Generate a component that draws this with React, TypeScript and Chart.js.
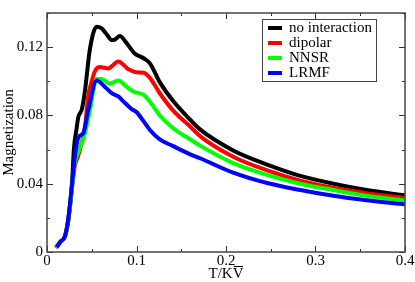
import React, { useEffect, useRef } from "react";
import { Chart, registerables } from "chart.js";

Chart.register(...registerables);

// No interaction (black)
const tNoInteraction = [0.010, 0.015, 0.020, 0.024, 0.028, 0.030, 0.033, 0.035, 0.039, 0.0425, 0.048, 0.0555, 0.061, 0.066, 0.0723, 0.0745, 0.0816, 0.087, 0.098, 0.108, 0.115, 0.126, 0.141, 0.160, 0.171, 0.208, 0.246, 0.283, 0.320, 0.357, 0.400];
const mNoInteraction = [0.0025, 0.006, 0.009, 0.0195, 0.040, 0.060, 0.072, 0.079, 0.0837, 0.0948, 0.119, 0.132, 0.131, 0.128, 0.1242, 0.1242, 0.1265, 0.1237, 0.1163, 0.1135, 0.1105, 0.0995, 0.0884, 0.0775, 0.0718, 0.0595, 0.0512, 0.0446, 0.0400, 0.0363, 0.0332];

// Dipolar (red)
const tDipolar = [0.010, 0.015, 0.020, 0.024, 0.028, 0.031, 0.035, 0.0425, 0.046, 0.050, 0.0536, 0.059, 0.0685, 0.0723, 0.0797, 0.091, 0.102, 0.108, 0.115, 0.126, 0.141, 0.160, 0.171, 0.208, 0.246, 0.283, 0.320, 0.357, 0.400];
const mDipolar = [0.0025, 0.006, 0.009, 0.0195, 0.038, 0.050, 0.0567, 0.0735, 0.091, 0.100, 0.106, 0.1083, 0.1075, 0.1088, 0.1116, 0.107, 0.1051, 0.105, 0.102, 0.093, 0.0828, 0.0735, 0.0679, 0.0558, 0.0478, 0.0418, 0.0376, 0.0344, 0.0316];

// NNSR (green)
const tNNSR = [0.010, 0.015, 0.020, 0.024, 0.028, 0.031, 0.036, 0.0425, 0.048, 0.0555, 0.061, 0.070, 0.080, 0.087, 0.0964, 0.108, 0.115, 0.126, 0.141, 0.160, 0.171, 0.208, 0.246, 0.283, 0.320, 0.357, 0.400];
const mNNSR = [0.0025, 0.006, 0.009, 0.0195, 0.038, 0.052, 0.060, 0.0697, 0.083, 0.1014, 0.1014, 0.0986, 0.1004, 0.0976, 0.094, 0.092, 0.088, 0.080, 0.0725, 0.0660, 0.0623, 0.0521, 0.0452, 0.0400, 0.0363, 0.0329, 0.0301];

// LRMF (blue)
const tLRMF = [0.0108, 0.015, 0.020, 0.0238, 0.0276, 0.0313, 0.035, 0.0406, 0.046, 0.0555, 0.0648, 0.0723, 0.0797, 0.085, 0.0946, 0.100, 0.108, 0.115, 0.126, 0.141, 0.160, 0.171, 0.208, 0.246, 0.283, 0.320, 0.357, 0.400];
const mLRMF = [0.0028, 0.006, 0.0093, 0.0195, 0.038, 0.0567, 0.067, 0.0697, 0.083, 0.1004, 0.0967, 0.093, 0.0911, 0.0884, 0.0837, 0.082, 0.0765, 0.0715, 0.066, 0.0620, 0.0572, 0.0549, 0.0465, 0.0404, 0.0363, 0.0329, 0.0303, 0.0279];

const seriesNames = ["no interaction", "dipolar", "NNSR", "LRMF"];
const seriesColors = ["#000000", "#ff0000", "#00ff00", "#0000ff"];

const xMin = 0;
const xMax = 0.4;
const xStep = 0.05;
const yMin = 0;
const yMax = 0.14;
const yStep = 0.02;

const xTitle = "T/KV";
const yTitle = "Magnetization";

const FONT = "'Liberation Serif', 'Times New Roman', serif";
const FS = 15;

const toPoints = (t: number[], m: number[]) => t.map((x, i) => ({ x, y: m[i] }));

const isMultiple = (v: number, step: number) => Math.abs(v / step - Math.round(v / step)) < 1e-6;

const framePlugin = {
  id: "frameAndTicks",
  afterDraw(chart: any) {
    const { ctx, chartArea } = chart;
    const { left, right, top, bottom } = chartArea;
    ctx.save();
    ctx.strokeStyle = "#333333";
    ctx.lineWidth = 1;
    const xs = chart.scales.x;
    const ys = chart.scales.y;
    ctx.beginPath();
    xs.ticks.forEach((tk: any) => {
      const px = Math.round(xs.getPixelForValue(tk.value)) + 0.5;
      const len = isMultiple(tk.value, 0.1) ? 6 : 3;
      ctx.moveTo(px, bottom);
      ctx.lineTo(px, bottom - len);
      ctx.moveTo(px, top);
      ctx.lineTo(px, top + len);
    });
    ys.ticks.forEach((tk: any) => {
      const py = Math.round(ys.getPixelForValue(tk.value)) + 0.5;
      const len = isMultiple(tk.value, 0.04) ? 6 : 3;
      ctx.moveTo(left, py);
      ctx.lineTo(left + len, py);
      ctx.moveTo(right, py);
      ctx.lineTo(right - len, py);
    });
    ctx.stroke();
    ctx.lineWidth = 1.5;
    ctx.strokeStyle = "#444444";
    ctx.strokeRect(left, top, right - left, bottom - top);

    // overline on the V of the x-axis title
    ctx.font = FS + "px " + FONT;
    const cx = (left + right) / 2;
    const wAll = ctx.measureText(xTitle).width;
    const wV = ctx.measureText("V").width;
    const xEnd = cx + wAll / 2;
    ctx.lineWidth = 1;
    ctx.strokeStyle = "#000";
    ctx.beginPath();
    ctx.moveTo(xEnd - wV + 1, 266.5);
    ctx.lineTo(xEnd - 0.5, 266.5);
    ctx.stroke();

    // legend
    const bx = 262, by = 19, bw = 114, bh = 62;
    ctx.fillStyle = "#ffffff";
    ctx.fillRect(bx, by, bw, bh);
    ctx.lineWidth = 1;
    ctx.strokeStyle = "#444444";
    ctx.strokeRect(bx + 0.5, by + 0.5, bw, bh);
    ctx.font = FS + "px " + FONT;
    ctx.textBaseline = "middle";
    ctx.textAlign = "left";
    chart.data.datasets.forEach((ds: any, i: number) => {
      const ry = 28 + i * 15;
      ctx.strokeStyle = ds.borderColor;
      ctx.lineWidth = 4;
      ctx.beginPath();
      ctx.moveTo(268, ry);
      ctx.lineTo(282, ry);
      ctx.stroke();
      ctx.fillStyle = "#000000";
      ctx.fillText(ds.label, 289, ry + 0.5);
    });
    ctx.restore();
  },
};

export default function App() {
  const ref = useRef<HTMLCanvasElement | null>(null);
  useEffect(() => {
    if (!ref.current) return;
    const data = [
      toPoints(tNoInteraction, mNoInteraction),
      toPoints(tDipolar, mDipolar),
      toPoints(tNNSR, mNNSR),
      toPoints(tLRMF, mLRMF),
    ];
    const chart = new Chart(ref.current, {
      type: "line",
      data: {
        datasets: data.map((d, i) => ({
          label: seriesNames[i],
          data: d,
          borderColor: seriesColors[i],
          backgroundColor: seriesColors[i],
          borderWidth: 4,
          pointRadius: 0,
          cubicInterpolationMode: "monotone" as const,
          fill: false,
          order: 3 - i,
        })),
      },
      options: {
        animation: false,
        responsive: false,
        parsing: false as any,
        layout: { padding: { top: 1, right: 10, left: 0, bottom: 0 } },
        plugins: { legend: { display: false }, tooltip: { enabled: false } },
        scales: {
          x: {
            type: "linear",
            min: xMin,
            max: xMax,
            grid: { display: false, drawTicks: false, tickLength: 0 },
            border: { display: false },
            ticks: {
              stepSize: xStep,
              autoSkip: false,
              maxRotation: 0,
              padding: 0,
              color: "#000",
              font: { family: FONT, size: FS },
              callback: (v: any) => (isMultiple(v, 0.1) ? (v === 0 ? "0" : Number(v).toFixed(1)) : ""),
            },
            title: {
              display: true,
              text: xTitle,
              color: "#000",
              font: { family: FONT, size: FS },
              padding: { top: 0, bottom: -1 },
            },
            afterFit: (s: any) => {
              s.height = 30;
            },
          },
          y: {
            type: "linear",
            min: yMin,
            max: yMax,
            grid: { display: false, drawTicks: false, tickLength: 0 },
            border: { display: false },
            ticks: {
              stepSize: yStep,
              autoSkip: false,
              padding: 4,
              color: "#000",
              font: { family: FONT, size: FS },
              callback: (v: any) => (isMultiple(v, 0.04) ? (v === 0 ? "0" : Number(v).toFixed(2)) : ""),
            },
            title: {
              display: true,
              text: yTitle,
              color: "#000",
              font: { family: FONT, size: FS },
              padding: { top: 0, bottom: 0 },
            },
            afterFit: (s: any) => {
              s.width = 47;
            },
          },
        },
      },
      plugins: [framePlugin],
    });
    return () => chart.destroy();
  }, []);
  return (
    <div style={{ position: "absolute", left: 0, top: 0, width: 415, height: 282, background: "#fff" }}>
      <canvas ref={ref} width={415} height={282} style={{ display: "block" }} />
    </div>
  );
}
